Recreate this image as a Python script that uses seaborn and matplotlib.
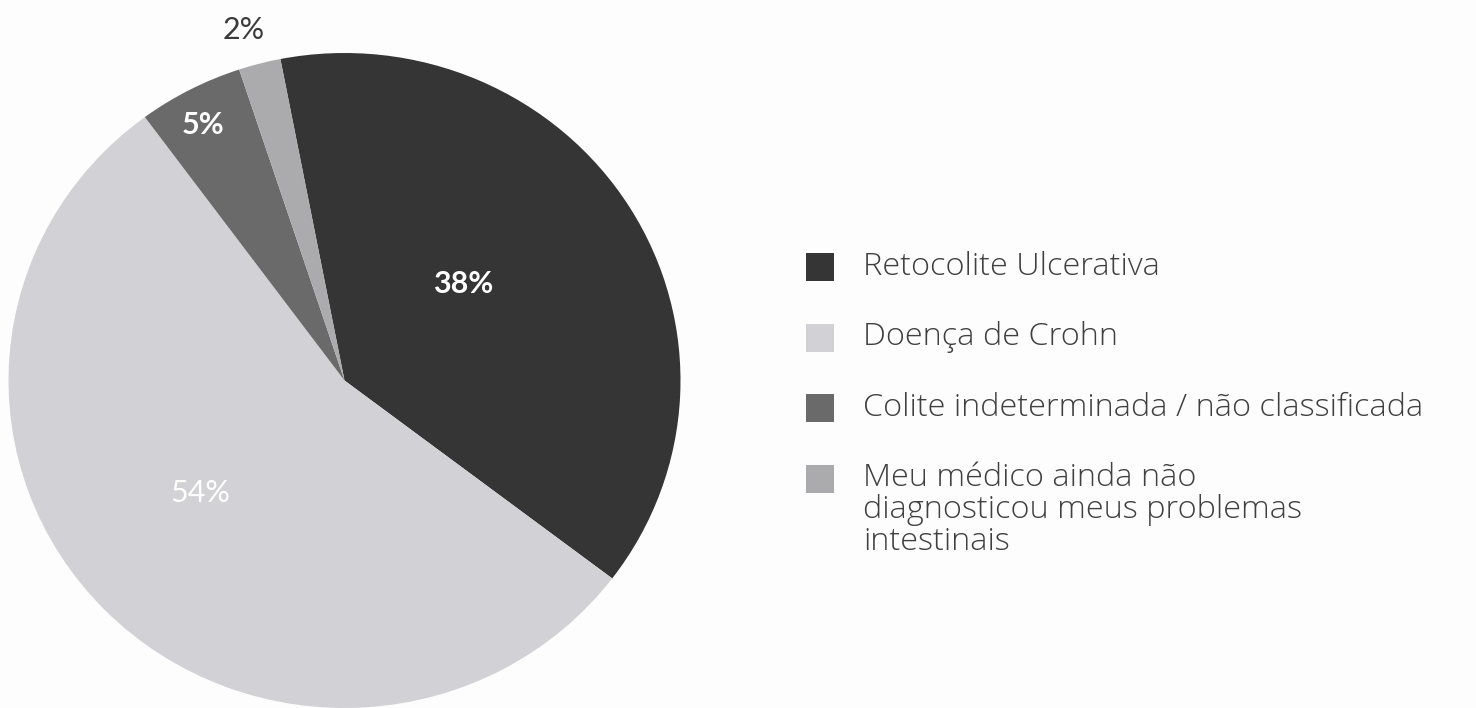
import numpy as np
import matplotlib.pyplot as plt
from matplotlib.patches import Rectangle
import seaborn as sns

# Data
categories = [
    "Retocolite Ulcerativa",
    "Doença de Crohn",
    "Colite indeterminada / não classificada",
    "Meu médico ainda não\ndiagnosticou meus problemas\nintestinais",
]
values = [38, 54, 5, 2]
pct_labels = ["38%", "54%", "5%", "2%"]

colors = ["#363535", "#d2d2d6", "#6a6a6a", "#ababad"]
label_colors = ["white", "white", "white", "#3a3a3a"]
label_weights = ["bold", "normal", "bold", "normal"]
label_dist = [0.46, 0.55, 0.885, 1.11]
label_shift = [8, -6, 1, 1]   # degrees, nudges the text off the wedge centre line

sns.set_theme(style="white")
plt.rcParams["font.family"] = ["Lato", "DejaVu Sans"]

W, H = 1476, 708
fig = plt.figure(figsize=(W / 100, H / 100), dpi=100, facecolor="#fdfdfd")

# Pie (slightly flattened like the scanned original)
ax = fig.add_axes([8.5 / W, 0.0, 672 / W, 655 / H])
wedges, _ = ax.pie(values, colors=colors, startangle=101, counterclock=False,
                   wedgeprops=dict(linewidth=0))
ax.set_xlim(-1, 1)
ax.set_ylim(-1, 1)
ax.set_aspect("auto")
ax.set_facecolor("none")
for w in wedges:
    w.set_clip_on(False)

for w, lab, col, wt, d, s in zip(wedges, pct_labels, label_colors, label_weights,
                                 label_dist, label_shift):
    ang = np.deg2rad((w.theta1 + w.theta2) / 2 + s)
    ax.text(d * np.cos(ang), d * np.sin(ang), lab, ha="center", va="center",
            color=col, fontweight=wt, fontsize=22, clip_on=False)

# Legend
row_y = [267, 337.5, 408, 478.5]
line_step = 32
for y, lab, col in zip(row_y, categories, colors):
    fig.patches.append(Rectangle((806 / W, 1 - (y + 14) / H), 28 / W, 28 / H,
                                 transform=fig.transFigure, facecolor=col,
                                 edgecolor="none"))
    for k, line in enumerate(lab.split("\n")):
        fig.text(863 / W, 1 - (y + k * line_step) / H, line, ha="left", va="center",
                 fontsize=23.4, color="#404040", fontweight="light",
                 family=["Open Sans", "DejaVu Sans"])

fig.savefig("out.png", dpi=100, facecolor=fig.get_facecolor())
